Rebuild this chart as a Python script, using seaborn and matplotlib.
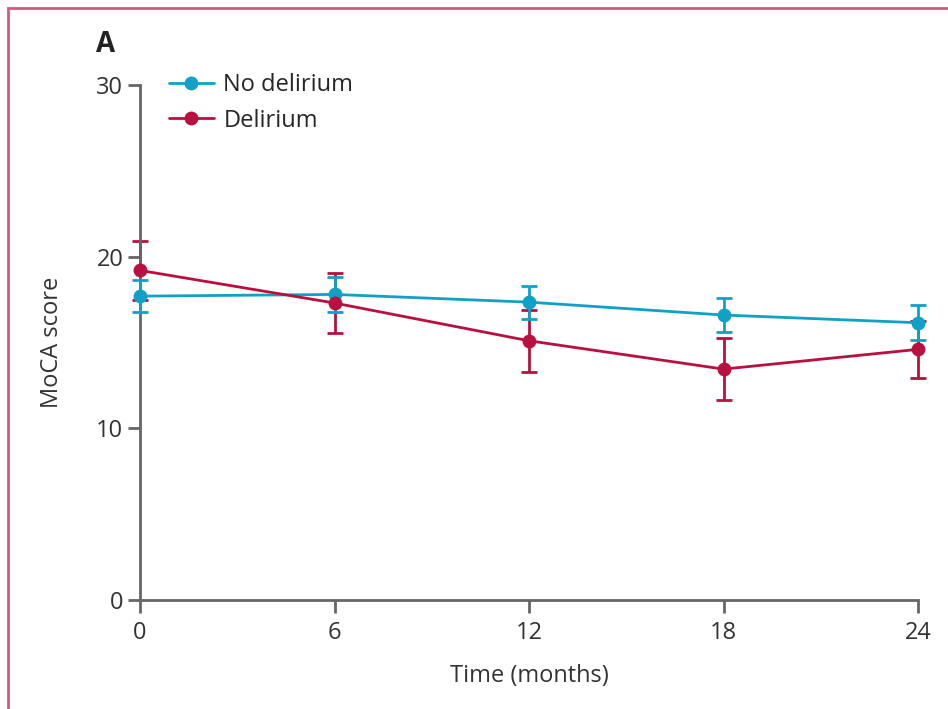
import numpy as np
import pandas as pd
import matplotlib.pyplot as plt
import seaborn as sns
from matplotlib.patches import Rectangle

# values
months = [0, 6, 12, 18, 24]
no_delirium = [17.7, 17.8, 17.35, 16.6, 16.15]
no_delirium_err = [0.95, 1.0, 0.97, 1.0, 1.03]
delirium = [19.2, 17.3, 15.1, 13.45, 14.6]
delirium_err = [1.7, 1.72, 1.8, 1.8, 1.65]

blue = '#11a0c6'
red = '#b8103f'
grey = '#666666'

sns.set_style('white')
plt.rcParams['font.family'] = ['Open Sans', 'DejaVu Sans']
fs = 17

df = pd.DataFrame({
    'Time': months * 2,
    'MoCA': no_delirium + delirium,
    'group': ['No delirium'] * 5 + ['Delirium'] * 5,
})

fig = plt.figure(figsize=(9.48, 7.09), dpi=100)
ax = fig.add_axes([140 / 948, 1 - 600 / 709, 778 / 948, 515 / 709])

# error bars first, lines on top
ax.errorbar(months, delirium, yerr=delirium_err, fmt='none', ecolor=red,
            elinewidth=2, capsize=5.5, capthick=2, clip_on=False, zorder=2)
ax.errorbar(months, no_delirium, yerr=no_delirium_err, fmt='none', ecolor=blue,
            elinewidth=2, capsize=5.5, capthick=2, clip_on=False, zorder=3)

sns.lineplot(data=df, x='Time', y='MoCA', hue='group',
             hue_order=['No delirium', 'Delirium'],
             palette={'No delirium': blue, 'Delirium': red},
             marker='o', markersize=10, markeredgewidth=0, linewidth=2,
             ax=ax, legend=True, clip_on=False, zorder=4)

ax.set_xlim(0, 24)
ax.set_ylim(0, 30)
ax.set_xticks(months)
ax.set_yticks([0, 10, 20, 30])
ax.set_xlabel('Time (months)', color='#333333', fontsize=fs, labelpad=14)
ax.set_ylabel('MoCA score', color='#333333', fontsize=fs, labelpad=23)

for s in ['top', 'right']:
    ax.spines[s].set_visible(False)
for s in ['left', 'bottom']:
    ax.spines[s].set_color(grey)
    ax.spines[s].set_linewidth(2)
ax.tick_params(axis='both', colors=grey, labelcolor='#333333', labelsize=fs,
               direction='out', length=9, width=2, left=True, bottom=True)
ax.tick_params(axis='x', pad=6)
ax.tick_params(axis='y', pad=3)

handles, labels = ax.get_legend_handles_labels()
leg = ax.legend(handles, labels, loc='upper left', bbox_to_anchor=(0.01, 1.065),
                frameon=False, fontsize=fs, handlelength=1.9, handletextpad=0.4,
                labelspacing=0.5)

fig.text(96 / 948, 1 - 45 / 709, 'A', fontsize=20, fontweight='bold',
         color='#222222', va='center', ha='left')

# pink frame around the panel
fig.patches.append(Rectangle((8 / 948, -0.05), 1.2, 1 - 8 / 709 + 0.05,
                             transform=fig.transFigure, fill=False,
                             edgecolor='#d4587c', linewidth=2))

fig.savefig('out.png', dpi=100)
